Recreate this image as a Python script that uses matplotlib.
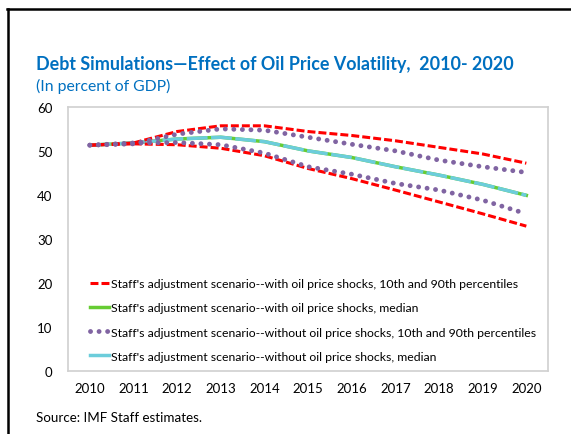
import matplotlib
matplotlib.use("Agg")
import matplotlib.pyplot as plt
from matplotlib.lines import Line2D

years = ["2010", "2011", "2012", "2013", "2014", "2015", "2016", "2017", "2018", "2019", "2020"]
with_p90 = [51.3, 51.8, 54.4, 55.7, 55.7, 54.4, 53.5, 52.3, 50.8, 49.3, 47.2]
with_p10 = [51.3, 51.6, 51.4, 50.6, 48.9, 46.0, 43.7, 41.1, 38.4, 35.7, 32.9]
with_med = [51.3, 51.8, 52.7, 53.1, 52.1, 50.0, 48.5, 46.4, 44.5, 42.4, 39.9]
without_p90 = [51.3, 51.6, 53.8, 55.0, 54.7, 53.1, 51.5, 50.0, 47.9, 46.4, 45.1]
without_p10 = [51.3, 51.8, 51.9, 51.4, 49.5, 46.4, 44.7, 42.6, 41.1, 38.8, 35.7]
without_med = [51.3, 51.8, 52.7, 53.1, 52.1, 50.0, 48.5, 46.4, 44.5, 42.4, 39.9]

labels = [
    "Staff's adjustment scenario--with oil price shocks, 10th and 90th percentiles",
    "Staff's adjustment scenario--with oil price shocks, median",
    "Staff's adjustment scenario--without oil price shocks, 10th and 90th percentiles",
    "Staff's adjustment scenario--without oil price shocks, median",
]

plt.rcParams['font.family'] = ['Lato', 'DejaVu Sans']

fig = plt.figure(figsize=(5.71, 4.35), dpi=100)
ax = fig.add_axes([0.119, 0.145, 0.841, 0.607])
x = list(range(len(years)))

red = '#FF0000'
green = '#66CC33'
purple = '#8064A2'
cyan = '#6CCDDB'

ax.plot(x, with_p90, color=red, lw=2.2, dashes=(2.6, 1.0), zorder=3)
ax.plot(x, with_p10, color=red, lw=2.2, dashes=(2.6, 1.0), zorder=3)
ax.plot(x, without_p90, color=purple, lw=3.5, dashes=(0.01, 1.75), dash_capstyle='round', zorder=4)
ax.plot(x, without_p10, color=purple, lw=3.5, dashes=(0.01, 1.75), dash_capstyle='round', zorder=4)
ax.plot(x, with_med, color=green, lw=2.5, zorder=2)
ax.plot(x, without_med, color=cyan, lw=2.5, dashes=(6, 1), zorder=2.5)

handles = [
    Line2D([], [], color=red, lw=2.2, dashes=(2.6, 1.0)),
    Line2D([], [], color=green, lw=2.5),
    Line2D([], [], color=purple, lw=3.5, dashes=(0.01, 1.75), dash_capstyle='round'),
    Line2D([], [], color=cyan, lw=2.5),
]
leg = ax.legend(handles, labels, loc='lower left', bbox_to_anchor=(0.045, 0.035), frameon=False,
                fontsize=8.85, handlelength=1.6, handletextpad=0.15, labelspacing=1.07,
                borderaxespad=0.0, borderpad=0.0)

ax.set_xlim(-0.5, 10.5)
ax.set_ylim(0, 60)
ax.set_xticks(x)
ax.set_xticklabels(years)
ax.set_yticks([0, 10, 20, 30, 40, 50, 60])
ax.tick_params(length=0, labelsize=9.5, colors='black', pad=8)
ax.tick_params(axis='y', pad=11)
for s in ax.spines.values():
    s.set_color('#D0D0D0')
    s.set_linewidth(1.2)

fig.text(0.063, 0.851, "Debt Simulations\u2014Effect of Oil Price Volatility,  2010- 2020",
         color='#0070C0', fontsize=12.85, fontweight='bold', va='center')
fig.text(0.063, 0.802, "(In percent of GDP)", color='#0070C0', fontsize=11.3, va='center')
fig.text(0.063, 0.039, "Source: IMF Staff estimates.", color='black', fontsize=9.6, va='center')

fig.add_artist(Line2D([0.014, 0.014], [0.0, 0.977], color='black', lw=1.8, transform=fig.transFigure))
fig.add_artist(Line2D([0.013, 1.0], [0.977, 0.977], color='black', lw=1.8, transform=fig.transFigure))

fig.savefig("out.png", dpi=100)
